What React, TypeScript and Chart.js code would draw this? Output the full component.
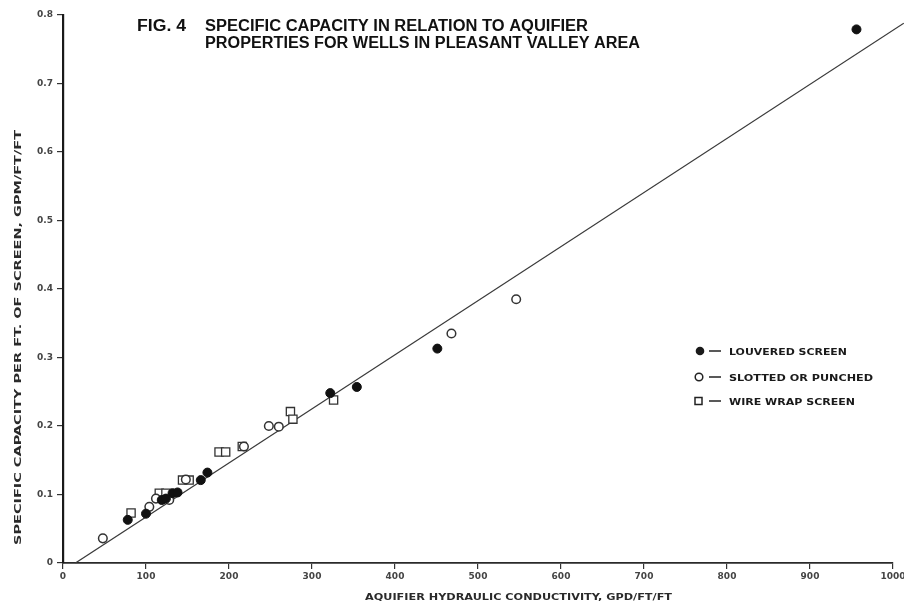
import React, { useEffect, useRef } from "react";
import { Chart, registerables } from "chart.js";

Chart.register(...registerables);

// ---------- data ----------
const xTickValues = [0, 100, 200, 300, 400, 500, 600, 700, 800, 900, 1000];
const yTickValues = [0, 0.1, 0.2, 0.3, 0.4, 0.5, 0.6, 0.7, 0.8];

const louveredX = [78, 100, 119, 124, 132, 138, 166, 174, 322, 354, 451, 956];
const louveredY = [0.063, 0.072, 0.092, 0.094, 0.102, 0.103, 0.121, 0.132, 0.248, 0.257, 0.313, 0.779];

const slottedX = [48, 104, 112, 128, 148, 218, 248, 260, 468, 546];
const slottedY = [0.036, 0.082, 0.094, 0.092, 0.122, 0.17, 0.2, 0.199, 0.335, 0.385];

const wireX = [82, 116, 124, 144, 152, 188, 196, 216, 274, 277, 326];
const wireY = [0.073, 0.102, 0.102, 0.121, 0.121, 0.162, 0.162, 0.17, 0.221, 0.21, 0.238];

const fitX = [15, 1013];
const fitY = [0, 0.788];

const figLabel = "FIG. 4";
const titleLines = [
  "SPECIFIC CAPACITY IN RELATION TO AQUIFIER",
  "PROPERTIES FOR WELLS IN PLEASANT VALLEY AREA",
];
const legendLabels = ["LOUVERED SCREEN", "SLOTTED OR PUNCHED", "WIRE WRAP SCREEN"];
const xTitle = "AQUIFIER HYDRAULIC CONDUCTIVITY, GPD/FT/FT";
const yTitle = "SPECIFIC CAPACITY PER FT. OF SCREEN, GPM/FT/FT";

const toPoints = (xs: number[], ys: number[]) => xs.map((x, i) => ({ x, y: ys[i] }));

function fitText(ctx: CanvasRenderingContext2D, text: string, x: number, y: number, width: number) {
  const w = ctx.measureText(text).width;
  ctx.save();
  ctx.translate(x, y);
  ctx.scale(width / w, 1);
  ctx.fillText(text, 0, 0);
  ctx.restore();
}

const decorPlugin = {
  id: "decor",
  afterDraw(chart: any) {
    const ctx: CanvasRenderingContext2D = chart.ctx;
    ctx.save();
    ctx.textAlign = "left";
    ctx.textBaseline = "alphabetic";
    // title
    ctx.fillStyle = "#111";
    ctx.font = "bold 16px 'Liberation Sans', Arial, sans-serif";
    fitText(ctx, figLabel, 137, 31, 49);
    fitText(ctx, titleLines[0], 205, 31, 383);
    fitText(ctx, titleLines[1], 205, 48, 435);

    // legend
    const rows = [351, 377, 401];
    const widths = [118, 144, 126];
    ctx.font = "bold 9px 'DejaVu Sans', sans-serif";
    ctx.fillStyle = "#1a1a1a";
    ctx.strokeStyle = "#222";
    rows.forEach((ry, i) => {
      ctx.lineWidth = 1.5;
      if (i === 0) {
        ctx.beginPath();
        ctx.arc(700, ry, 4.3, 0, Math.PI * 2);
        ctx.fill();
      } else if (i === 1) {
        ctx.beginPath();
        ctx.arc(699, ry, 3.8, 0, Math.PI * 2);
        ctx.stroke();
      } else {
        ctx.strokeRect(695, ry - 3.5, 7, 7);
      }
      ctx.beginPath();
      ctx.moveTo(709, ry);
      ctx.lineTo(721, ry);
      ctx.stroke();
      fitText(ctx, legendLabels[i], 729, ry + 3.5, widths[i]);
    });

    // axis titles
    ctx.fillStyle = "#2a2a2a";
    ctx.font = "bold 9px 'DejaVu Sans', sans-serif";
    fitText(ctx, xTitle, 365, 600, 307);
    ctx.save();
    ctx.translate(21, 545);
    ctx.rotate(-Math.PI / 2);
    fitText(ctx, yTitle, 0, 0, 415);
    ctx.restore();

    ctx.restore();
  },
};

export default function App() {
  const canvasRef = useRef<HTMLCanvasElement | null>(null);

  useEffect(() => {
    if (!canvasRef.current) return;
    const tickFont = { family: "'DejaVu Sans', sans-serif", size: 9, weight: "bold" as const };
    const chart = new Chart(canvasRef.current, {
      type: "scatter",
      data: {
        datasets: [
          {
            label: legendLabels[0],
            data: toPoints(louveredX, louveredY),
            pointStyle: "circle",
            pointRadius: 4.5,
            backgroundColor: "#111",
            borderColor: "#111",
            borderWidth: 1,
          },
          {
            label: legendLabels[1],
            data: toPoints(slottedX, slottedY),
            pointStyle: "circle",
            pointRadius: 4.3,
            backgroundColor: "#fff",
            borderColor: "#333",
            borderWidth: 1.5,
          },
          {
            label: legendLabels[2],
            data: toPoints(wireX, wireY),
            pointStyle: "rect",
            pointRadius: 5.8,
            backgroundColor: "#fff",
            borderColor: "#333",
            borderWidth: 1.3,
          },
          {
            type: "line" as any,
            label: "fit",
            data: toPoints(fitX, fitY),
            borderColor: "#3a3a3a",
            borderWidth: 1.3,
            pointRadius: 0,
            showLine: true,
            fill: false,
            clip: false as any,
          } as any,
        ],
      },
      options: {
        animation: false,
        responsive: true,
        maintainAspectRatio: false,
        layout: { padding: { top: 15, right: 11, left: 0, bottom: 0 } },
        plugins: {
          legend: { display: false },
          tooltip: { enabled: false },
          title: { display: false },
        },
        scales: {
          x: {
            type: "linear",
            min: 0,
            max: 1000,
            afterFit: (s: any) => {
              s.height = 38;
              s.paddingLeft = 0;
              s.paddingRight = 0;
            },
            afterBuildTicks: (s: any) => {
              s.ticks = xTickValues.map((v) => ({ value: v }));
            },
            ticks: {
              font: tickFont,
              color: "#444",
              padding: 2,
              maxRotation: 0,
              autoSkip: false,
              callback: (v: any) => String(v),
            },
            grid: {
              display: true,
              drawOnChartArea: false,
              drawTicks: true,
              tickLength: 6,
              color: "#333",
              lineWidth: 1.2,
            },
            border: { display: true, color: "#2a2a2a", width: 1.8 },
          },
          y: {
            type: "linear",
            min: 0,
            max: 0.8,
            afterFit: (s: any) => {
              s.width = 63;
              s.paddingTop = 0;
              s.paddingBottom = 0;
            },
            afterBuildTicks: (s: any) => {
              s.ticks = yTickValues.map((v) => ({ value: v }));
            },
            ticks: {
              font: tickFont,
              color: "#444",
              padding: 4,
              autoSkip: false,
              callback: (v: any) => (Number(v) === 0 ? "0" : Number(v).toFixed(1)),
            },
            grid: {
              display: true,
              drawOnChartArea: false,
              drawTicks: true,
              tickLength: 6,
              color: "#333",
              lineWidth: 1.2,
            },
            border: { display: true, color: "#1a1a1a", width: 2.2 },
          },
        },
      },
      plugins: [decorPlugin],
    });
    return () => chart.destroy();
  }, []);

  return (
    <div style={{ position: "fixed", left: 0, top: 0, width: 904, height: 601, background: "#fff" }}>
      <canvas ref={canvasRef} />
    </div>
  );
}
